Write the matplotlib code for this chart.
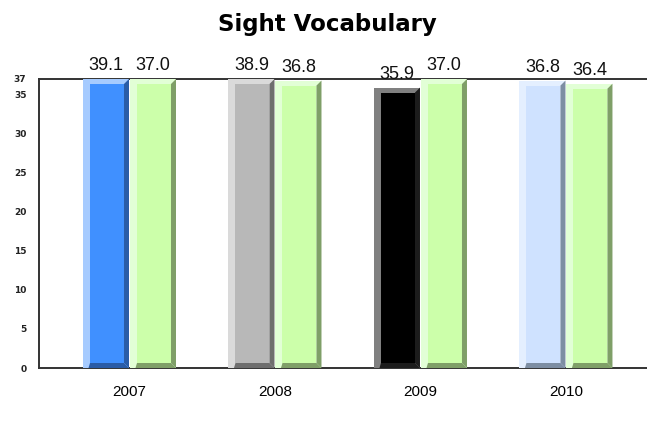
import matplotlib
matplotlib.use("Agg")
import matplotlib.pyplot as plt
from matplotlib.patches import Polygon

years = ["2007", "2008", "2009", "2010"]
student = [39.1, 38.9, 35.9, 36.8]
norm = [37.0, 36.8, 37.0, 36.4]
yticks = [0, 5, 10, 15, 20, 25, 30, 35, 37]
YMAX = 37

# (highlight, face, shadow) per bar
student_cols = [("#a6cbff", "#4090ff", "#2a5ca8"),
                ("#dadada", "#b8b8b8", "#6e6e6e"),
                ("#808080", "#000000", "#1c1c1c"),
                ("#e4efff", "#cfe2ff", "#7d8ea3")]
norm_cols = ("#e2ffd6", "#ccffaa", "#7f9f68")

W, H, DPI = 647, 428, 100
fig = plt.figure(figsize=(W / DPI, H / DPI), dpi=DPI)
ax = fig.add_axes([39 / W, 1 - 368 / H, 1 - 39 / W, (368 - 79) / H])
ax.set_xlim(-0.622, 3.557)
ax.set_ylim(0, YMAX)

# pixel -> data scale, for the bevel strips
sx = (3.557 + 0.622) / (W - 39)
sy = YMAX / (368 - 79)
BW = 46 * sx
L, R, T, B = 7 * sx, 5 * sx, 5 * sy, 5 * sy


def bevel_bar(xc, v, cols):
    hi, face, sh = cols
    t = min(v, YMAX)
    x0, x1 = xc - BW / 2, xc + BW / 2
    ax.bar(x0, t, width=BW, align="edge", color=hi, lw=0, zorder=2)
    ax.bar(x0 + L, t - T - B, bottom=B, width=BW - L - R, align="edge",
           color=face, lw=0, zorder=3)
    ax.add_patch(Polygon([(x1 - R, t - T), (x1, t), (x1, 0), (x1 - R, B)],
                         closed=True, fc=sh, lw=0, zorder=3))
    ax.add_patch(Polygon([(x0 + L - 1.5 * sx, 0), (x1, 0), (x1 - R, B),
                          (x0 + L, B)], closed=True, fc=sh, lw=0, zorder=3))
    ax.annotate(f"{v:.1f}", (xc, t), xytext=(0, 6.5),
                textcoords="offset points", ha="center", va="baseline",
                fontsize=13, family="Liberation Sans", color="#111111",
                annotation_clip=False)


off = 23.5 * sx
for i in range(len(years)):
    bevel_bar(i - off, student[i], student_cols[i])
    bevel_bar(i + off, norm[i], norm_cols)

for s in ("top", "bottom", "left"):
    ax.spines[s].set_color("#333333")
    ax.spines[s].set_linewidth(1.4)
    ax.spines[s].set_zorder(1)
ax.spines["right"].set_visible(False)

ax.set_yticks(yticks)
ax.set_yticklabels([str(v) for v in yticks], fontsize=6.5, fontweight="bold",
                   family="DejaVu Sans", color="#222222")
ax.tick_params(axis="y", length=0, pad=9)
ax.set_xticks(range(len(years)))
ax.set_xticklabels(years, fontsize=11, family="Liberation Sans")
ax.tick_params(axis="x", length=0, pad=12)

fig.text(327 / W, 1 - 31.5 / H, "Sight Vocabulary", ha="center",
         va="baseline", fontsize=16.5, fontweight="bold",
         family="DejaVu Sans")

fig.savefig("out.png", dpi=DPI)
